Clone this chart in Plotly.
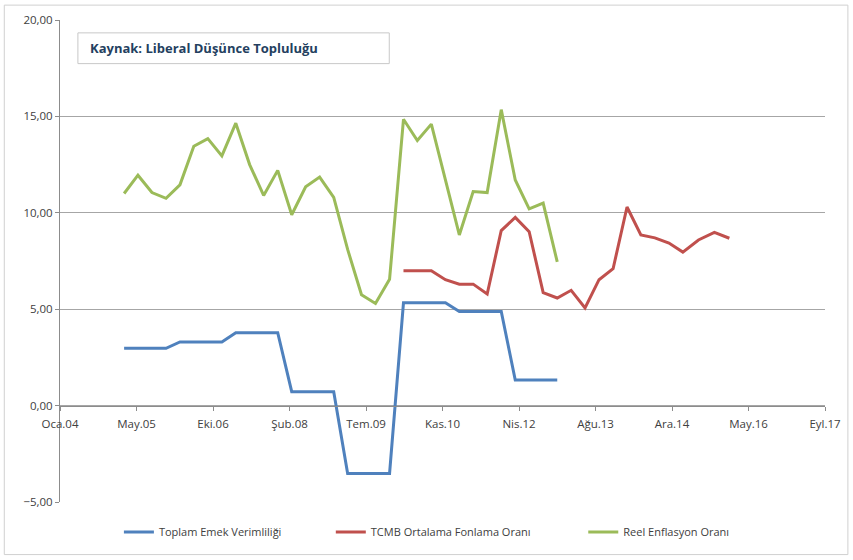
import pandas as pd
import plotly.graph_objects as go

# ---------------- data ----------------
x_tick_labels = ["Oca.04", "May.05", "Eki.06", "Şub.08", "Tem.09", "Kas.10",
                 "Nis.12", "Ağu.13", "Ara.14", "May.16", "Eyl.17"]

series_names = ["Toplam Emek Verimliliği", "TCMB Ortalama Fonlama Oranı", "Reel Enflasyon Oranı"]

# quarterly observations (mid-quarter), 2005Q1 - 2012Q4
emek_verimliligi = [2.97, 2.97, 2.97, 2.97,
                    3.30, 3.30, 3.30, 3.30,
                    3.78, 3.78, 3.78, 3.78,
                    0.72, 0.72, 0.72, 0.72,
                    -3.52, -3.52, -3.52, -3.52,
                    5.33, 5.33, 5.33, 5.33,
                    4.88, 4.88, 4.88, 4.88,
                    1.33, 1.33, 1.33, 1.33]

reel_enflasyon = [11.00, 11.95, 11.05, 10.75,
                  11.45, 13.45, 13.85, 12.95,
                  14.65, 12.50, 10.90, 12.20,
                  9.90, 11.35, 11.85, 10.80,
                  8.10, 5.75, 5.30, 6.55,
                  14.85, 13.75, 14.60, 11.70,
                  8.85, 11.10, 11.05, 15.35,
                  11.70, 10.20, 10.50, 7.45]

# 2010Q1 - 2015Q1 quarterly, then three later 2015 observations
tcmb_fonlama = [7.00, 7.00, 7.00, 6.53,
                6.30, 6.30, 5.79, 9.08,
                9.76, 9.02, 5.86, 5.58,
                5.98, 5.07, 6.53, 7.10,
                10.30, 8.85, 8.70, 8.43,
                7.96, 8.59, 8.98, 8.68]
tcmb_extra_dates = ["2015-06-05", "2015-09-17", "2015-12-24"]


def mid_quarter(start, end):
    periods = pd.period_range(start, end, freq="Q")
    return [p.start_time + (p.end_time - p.start_time) / 2 + pd.Timedelta(days=8) for p in periods]


dates_2005_2012 = mid_quarter("2005Q1", "2012Q4")
tcmb_dates = mid_quarter("2010Q1", "2015Q1") + [pd.Timestamp(d) for d in tcmb_extra_dates]

axis_start = pd.Timestamp("2004-01-01")
tick_step_days = 500
tick_vals = [axis_start + pd.Timedelta(days=tick_step_days * i) for i in range(len(x_tick_labels))]
axis_end = tick_vals[-1]

# ---------------- figure ----------------
BLUE, RED, GREEN = "#4F81BD", "#C0504D", "#9BBB59"
FONT = "'Open Sans', Lato, sans-serif"
TXT = "#404040"

fig = go.Figure()
fig.add_trace(go.Scatter(x=dates_2005_2012, y=emek_verimliligi, mode="lines",
                         name=series_names[0], line=dict(color=BLUE, width=3),
                         legend="legend"))
fig.add_trace(go.Scatter(x=tcmb_dates, y=tcmb_fonlama, mode="lines",
                         name=series_names[1], line=dict(color=RED, width=3),
                         legend="legend2"))
fig.add_trace(go.Scatter(x=dates_2005_2012, y=reel_enflasyon, mode="lines",
                         name=series_names[2], line=dict(color=GREEN, width=3),
                         legend="legend3"))

legend_common = dict(orientation="h", yanchor="middle", y=-0.062, xanchor="left",
                     bgcolor="rgba(0,0,0,0)", borderwidth=0,
                     font=dict(family=FONT, size=11, color=TXT))

fig.update_layout(
    width=853, height=560,
    margin=dict(l=60, r=24, t=16, b=58),
    paper_bgcolor="white", plot_bgcolor="white",
    separators=",.",
    font=dict(family=FONT, size=12, color=TXT),
    showlegend=True,
    legend=dict(x=0.077, **legend_common),
    legend2=dict(x=0.354, **legend_common),
    legend3=dict(x=0.684, **legend_common),
    xaxis=dict(type="date", range=[axis_start, axis_end],
               tickvals=tick_vals, ticktext=x_tick_labels,
               anchor="free", position=0.2,
               showline=True, linecolor="#8c8c8c", linewidth=1,
               ticks="outside", ticklen=4, tickcolor="#8c8c8c",
               ticklabelstandoff=4,
               showgrid=False, zeroline=False,
               tickfont=dict(family=FONT, size=11.5, color=TXT)),
    yaxis=dict(range=[-5, 20], tickvals=[-5, 0, 5, 10, 15, 20], tickformat=".2f",
               showline=True, linecolor="#8c8c8c", linewidth=1,
               ticks="outside", ticklen=4, tickcolor="#8c8c8c",
               showgrid=True, gridcolor="#a6a6a6", gridwidth=1,
               zeroline=False,
               tickfont=dict(family=FONT, size=11.5, color=TXT)),
)

# source box
fig.add_shape(type="rect", xref="paper", yref="paper",
              x0=0.0234, x1=0.4304, y0=0.9095, y1=0.9733,
              line=dict(color="#c8c8c8", width=1), fillcolor="white", layer="above")
fig.add_annotation(text="<b>Kaynak: Liberal Düşünce Topluluğu</b>",
                   xref="paper", yref="paper", x=0.0364, y=0.941,
                   xanchor="left", yanchor="middle", showarrow=False,
                   font=dict(family=FONT, size=13, color="#243F60"))

# chart-area border
fig.add_shape(type="rect", xref="paper", yref="paper",
              x0=(4 - 60) / 769, x1=(852 - 60) / 769,
              y0=(502 - 555) / 486, y1=(502 - 1) / 486,
              line=dict(color="#d0d0d0", width=1), layer="below")

fig.write_html("out.html",
               config={"displayModeBar": False},
               post_script="document.body.style.margin='0';document.body.style.padding='0';")
